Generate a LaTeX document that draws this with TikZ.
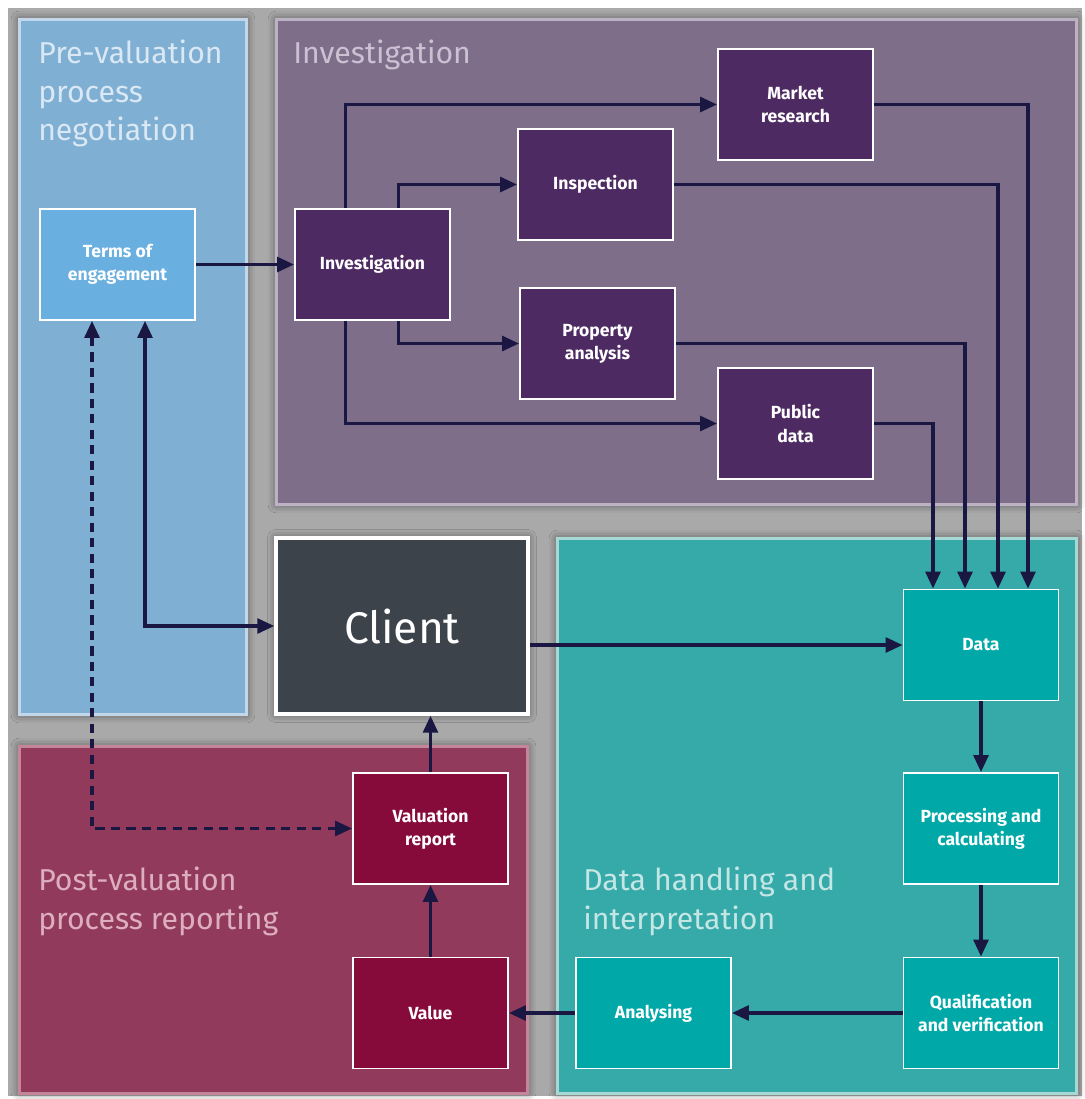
\documentclass[tikz,border=0pt]{standalone}
\usepackage{fontspec}
\setmainfont{Fira Sans}
\usetikzlibrary{arrows.meta,calc,shadows.blur}

\definecolor{bggray}{HTML}{A9A9A9}
\definecolor{preblue}{HTML}{7FAFD2}
\definecolor{preedge}{HTML}{C2D8EA}
\definecolor{pretitle}{HTML}{D9E8F4}
\definecolor{termsblue}{HTML}{69AFE0}
\definecolor{invpanel}{HTML}{7F6E89}
\definecolor{invedge}{HTML}{BCB2C3}
\definecolor{invtitle}{HTML}{CBC1D3}
\definecolor{invnode}{HTML}{4E2A63}
\definecolor{datapanel}{HTML}{36A9A9}
\definecolor{dataedge}{HTML}{A6D8D6}
\definecolor{datatitle}{HTML}{C4E6E4}
\definecolor{datanode}{HTML}{00A8A8}
\definecolor{postpanel}{HTML}{923A5C}
\definecolor{postedge}{HTML}{C68699}
\definecolor{posttitle}{HTML}{DDAEBD}
\definecolor{postnode}{HTML}{870B3A}
\definecolor{clientgray}{HTML}{3D434B}
\definecolor{arrowblue}{HTML}{1A1842}

\begin{document}
\begin{tikzpicture}[
    x=0.025cm,
    y=-0.025cm,
    every node/.style={font=\fontsize{12.5}{16.5}\selectfont\bfseries, text=white, align=center},
    panel/.style={line width=2.2pt, blur shadow={shadow xshift=0pt, shadow yshift=0pt, shadow blur radius=6pt, shadow opacity=55}},
    stepbox/.style={draw=white, line width=1.3pt, minimum width=3.875cm, minimum height=2.775cm, inner sep=2pt},
    clientbox/.style={draw=white, line width=2.4pt, fill=clientgray, minimum width=6.3cm, minimum height=4.4cm,
      font=\fontsize{31.5}{38}\selectfont, blur shadow={shadow xshift=0pt, shadow yshift=0pt, shadow blur radius=6pt, shadow opacity=55}},
    title/.style={anchor=north west, align=left, inner sep=0pt, font=\fontsize{21.5}{27.5}\selectfont},
    flow/.style={draw=arrowblue, line width=2.3pt, -{Triangle[length=12pt, width=10.5pt]}},
    twoway/.style={flow, {Triangle[length=12pt, width=10.5pt]}-{Triangle[length=12pt, width=10.5pt]}},
    dashflow/.style={twoway, dash pattern=on 6.5pt off 4.5pt}
  ]
    \useasboundingbox (0,0) rectangle (1085,1099);
    \fill[bggray] (8,8) rectangle (1082,1096);

    \draw[panel, draw=preedge, fill=preblue] (19.5,19.5) rectangle (246.5,714.5);
    \draw[panel, draw=invedge, fill=invpanel] (276.5,19.5) rectangle (1076.5,504.5);
    \draw[panel, draw=dataedge, fill=datapanel] (557.5,538.5) rectangle (1076.5,1093.5);
    \draw[panel, draw=postedge, fill=postpanel] (19.5,746.5) rectangle (527.5,1093.5);

    \node[title, text=pretitle] (pretitle) at (38,39.5) {Pre-valuation\\process\\negotiation};
    \node[title, text=invtitle] (invtitle) at (293,39.5) {Investigation};
    \node[title, text=posttitle] (posttitle) at (38,867) {Post-valuation\\process reporting};
    \node[title, text=datatitle] (datatitle) at (583,867) {Data handling and\\interpretation};

    \node[stepbox, fill=termsblue] (terms) at (117.5,264.5) {Terms of\\engagement};

    \node[stepbox, fill=invnode] (invest) at (372.5,264.5) {Investigation};
    \node[stepbox, fill=invnode] (market) at (795.5,104.5) {Market\\research};
    \node[stepbox, fill=invnode] (insp) at (595.5,184.5) {Inspection};
    \node[stepbox, fill=invnode] (prop) at (597.5,343.5) {Property\\analysis};
    \node[stepbox, fill=invnode] (public) at (795.5,423.5) {Public\\data};

    \node[clientbox] (client) at (402,626) {Client};

    \node[stepbox, fill=datanode] (data) at (981,645) {Data};
    \node[stepbox, fill=datanode] (proc) at (981,828.5) {Processing and\\calculating};
    \node[stepbox, fill=datanode] (qual) at (981,1013) {Qualification\\and verification};
    \node[stepbox, fill=datanode] (analys) at (653.5,1013) {Analysing};

    \node[stepbox, fill=postnode] (value) at (430.5,1013) {Value};
    \node[stepbox, fill=postnode] (report) at (430.5,828.5) {Valuation\\report};

    \draw[flow] (terms) -- (invest);
    \draw[flow] ($(invest.north)+(-27,0)$) |- (market);
    \draw[flow] ($(invest.north)+(26,0)$) |- (insp);
    \draw[flow] ($(invest.south)+(26,0)$) |- (prop);
    \draw[flow] ($(invest.south)+(-27,0)$) |- (public);

    \draw[flow] (market.east) -| ($(data.north)+(47,0)$);
    \draw[flow] (insp.east) -| ($(data.north)+(17,0)$);
    \draw[flow] (prop.east) -| ($(data.north)+(-16,0)$);
    \draw[flow] (public.east) -| ($(data.north)+(-48,0)$);

    \draw[flow] (client.east |- data) -- (data);
    \draw[twoway] ($(terms.south)+(27.5,0)$) |- (client);
    \draw[dashflow] ($(terms.south)+(-25.5,0)$) |- (report);

    \draw[flow] (data) -- (proc);
    \draw[flow] (proc) -- (qual);
    \draw[flow] (qual) -- (analys);
    \draw[flow] (analys) -- (value);
    \draw[flow] (value) -- (report);
    \draw[flow] (report) -- (report |- client.south);
  \end{tikzpicture}
\end{document}
